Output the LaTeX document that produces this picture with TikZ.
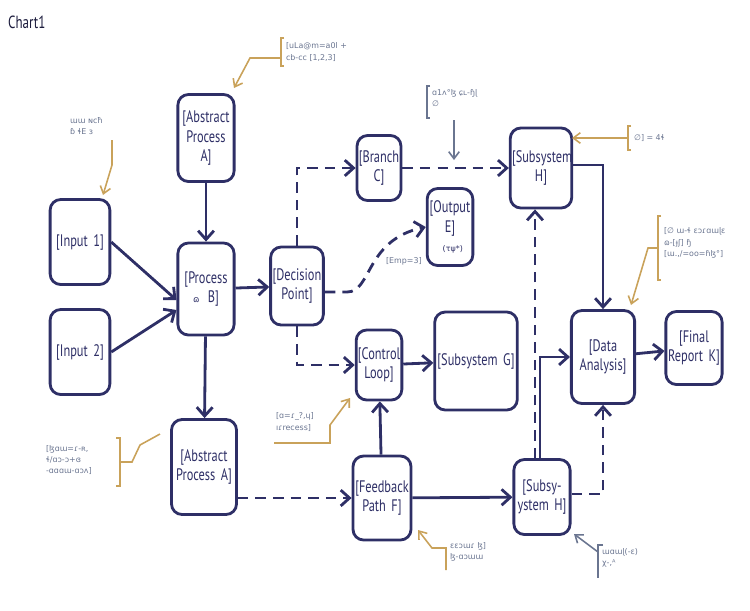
\documentclass[tikz,border=0pt]{standalone}
\usepackage{fontspec}
\setmainfont{PT Sans}
\newfontfamily\boxfont[FakeStretch=0.74]{PT Sans}
\newfontfamily\scrib{DejaVu Sans}
\usetikzlibrary{arrows.meta}
\definecolor{navy}{HTML}{2E2F66}
\definecolor{gold}{HTML}{C9A25A}
\definecolor{slate}{HTML}{6A7590}
\tikzset{
  box/.style={draw=navy, line width=1.6pt, rounded corners=6pt, align=center,
    text=navy, font=\boxfont\fontsize{9.5}{11}\selectfont, inner sep=1pt},
  flow/.style={draw=navy, line width=1.6pt, -{Straight Barb[length=5pt,width=9pt]}},
  dflow/.style={flow, dash pattern=on 6pt off 4pt},
  note/.style={text=slate, font=\scrib\fontsize{4.5}{6.5}\selectfont, align=left, inner sep=1pt},
  lead/.style={draw=gold, line width=0.9pt, -{Straight Barb[length=4pt,width=6pt]}},
}
\newcommand{\brk}[2]{\draw[gold, line width=0.9pt] (#1)++(3,0) -- ++(-3,0) -- ++(0,#2) -- ++(3,0);}
\begin{document}
\begin{tikzpicture}[x=0.02cm, y=-0.02cm]
  \useasboundingbox (0,0) rectangle (750,610);
  \node[anchor=north west, text=navy!60!black, font=\boxfont\fontsize{10}{12}\selectfont] (title) at (2,10) {Chart1};
  % boxes
  \node[box, text width=32pt, minimum height=85*0.02cm] (in1) at (80,242) {[Input 1]};
  \node[box, text width=32pt, minimum height=85*0.02cm] (in2) at (80,352) {[Input 2]};
  \node[box, text width=30pt, minimum height=87*0.02cm] (absa) at (206,138) {[Abstract\\Process\\A]};
  \node[box, text width=30pt, minimum height=92*0.02cm] (procb) at (206,289) {[Process\\{\scrib\fontsize{5}{6}\selectfont ɷ}\, B]};
  \node[box, text width=28pt, minimum height=78*0.02cm] (dec) at (297,286) {[Decision\\Point]};
  \node[box, text width=23pt, minimum height=65*0.02cm] (brc) at (379,168) {[Branch\\C]};
  \node[box, text width=24pt, minimum height=77*0.02cm] (oute) at (450,227) {[Output\\E]\\{\scrib\fontsize{4.5}{6}\selectfont ~(τψ*)}};
  \node[box, text width=33pt, minimum height=80*0.02cm] (subh) at (541,168) {[Subsystem\\H]};
  \node[box, text width=24pt, minimum height=70*0.02cm] (ctrl) at (379,365) {[Control\\Loop]};
  \node[box, text width=45pt, minimum height=98*0.02cm] (subg) at (476,361) {[Subsystem G]};
  \node[box, text width=34pt, minimum height=93*0.02cm] (data) at (603,357) {[Data\\Analysis]};
  \node[box, text width=30pt, minimum height=73*0.02cm] (fink) at (694,348) {[Final\\Report K]};
  \node[box, text width=35pt, minimum height=95*0.02cm] (absb) at (204,467) {[Abstract\\Process A]};
  \node[box, text width=31pt, minimum height=84*0.02cm] (fbf) at (382,498) {[Feedback\\Path F]};
  \node[box, text width=30pt, minimum height=75*0.02cm] (subh2) at (542,497) {[Subsy-\\ystem H]};
  % connectors
  \draw[flow] (in1.east) -- (procb.west |- 0,300);
  \draw[flow] (in2.east) -- (procb.west |- 0,310);
  \draw[flow] (absa) -- (procb);
  \draw[flow] (procb) -- (dec);
  \draw[flow] (procb) -- (absb);
  \draw[dflow] (dec.north) |- (brc.west);
  \draw[dflow] (dec.east |- 0,292) -- (347,292) .. controls (372,292) and (365,240) .. (oute.west);
  \node[note, anchor=north west] (emp) at (384,255) {[Emp=3]};
  \draw[dflow] (dec.south) |- (ctrl.west);
  \draw[dflow] (brc) -- (subh);
  \draw[flow] (subh.east |- 0,165) -| (data.north);
  \draw[flow] (ctrl) -- (subg);
  \draw[flow] (fbf) -- (ctrl);
  \draw[dflow] (absb.east |- 0,498) -- (fbf.west |- 0,498);
  \draw[flow] (fbf) -- (subh2);
  \draw[dflow] (subh2.north -| 535,0) -- (subh.south -| 535,0);
  \draw[flow] (subh2.north -| 540,0) |- (data.west);
  \draw[dflow] (subh2.east |- 0,494) -| (data.south);
  \draw[flow] (data) -- (fink);
  % notes
  \node[note, anchor=west] (n1) at (284,52) {{[}uLa@m=a0l +\\cb-cc [1,2,3]};
  \brk{281,38}{28}
  \draw[lead] (281,58) -- (250,58) -- (234,88);
  \node[note, anchor=west] (n2) at (68,126) {ɯɯ ɴcħ\\ɓ ɬE ɜ};
  \draw[lead] (112,140) -- (112,165) -- (103,195);
  \node[note, anchor=west] (n3) at (430,98) {ɑ1ʌ°ɮ ɕʟ-ɧɭ\\∅};
  \draw[draw=slate, line width=0.8pt] (430,86) -- (427,86) -- (427,118) -- (430,118);
  \draw[lead, draw=slate] (454,120) -- (454,160);
  \node[note, anchor=west] (n4) at (632,138) {∅] = 4ɬ};
  \brk{628,126}{24}
  \draw[lead] (628,138) -- (572,138);
  \node[note, anchor=west] (n5) at (662,243) {{[}∅ ɯ-ɬ ɛɔɾɑɯɭɛ\\ɷ-[ɟʃ] ɧ\\{[}ɯ.,/=oo=ɦɮ°]};
  \brk{658,216}{64}
  \draw[lead] (658,248) -- (648,248) -- (631,305);
  \node[note, anchor=west] (n6) at (44,460) {{[}ɮɑɯ=ɾ-ʀ,\\ɬ/ɑɔ-ɔ+ɞ\\-ɑɑɑɯ-ɑɔʌ]};
  \draw[gold, line width=0.9pt] (116,438) -- (120,438) -- (120,486) -- (116,486);
  \draw[gold, line width=0.9pt] (120,462) -- (132,462) -- (140,445) -- (160,434);
  \node[note, anchor=west] (n7) at (274,422) {{[}ɑ=ɾ\_?,ɥ]\\ıɾrecess]};
  \draw[lead] (274,443) -- (330,443) -- (330,425) -- (350,398);
  \node[note, anchor=west] (n8) at (448,552) {ɛɛɔɯɾ ɮ]\\ɮ-ɑɔɯɯ};
  \draw[lead] (446,570) -- (446,548) -- (432,548) -- (418,530);
  \node[note, anchor=west] (n9) at (600,558) {ɯɑɯɭ(-ɛ)\\χ-,ᴬ};
  \draw[draw=slate, line width=0.8pt] (603,545) -- (598,545) -- (598,578);
  \draw[lead, draw=slate] (598,552) -- (578,537) -- (574,534);
\end{tikzpicture}
\end{document}
